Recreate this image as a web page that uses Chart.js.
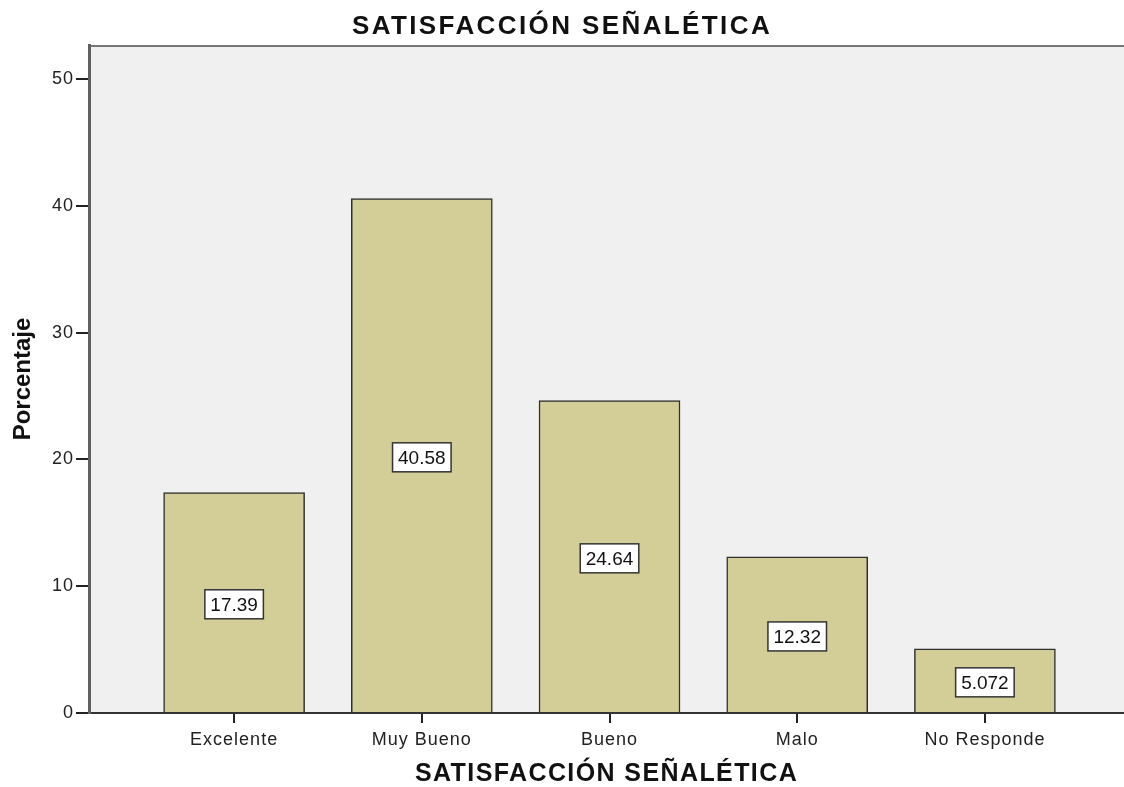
<!DOCTYPE html>
<html>
<head>
<meta charset="utf-8">
<title>SATISFACCIÓN SEÑALÉTICA</title>
<script src="https://cdn.jsdelivr.net/npm/chart.js@4.4.1/dist/chart.umd.min.js"></script>
<style>
  html, body { margin: 0; padding: 0; background: #fff; }
  #wrap { width: 1124px; height: 787px; }
</style>
</head>
<body>
<div id="wrap"><canvas id="satChart"></canvas></div>
<script>
// data
var categories = ['Excelente', 'Muy Bueno', 'Bueno', 'Malo', 'No Responde'];
var porcentaje = [17.39, 40.58, 24.64, 12.32, 5.072];
var yTicks = [0, 10, 20, 30, 40, 50];

var FONT = "'Liberation Sans', Arial, sans-serif";

// the original text is a bit wider than Arial, so spread the letters
function spaced(obj, name, sp) {
  var orig = obj[name];
  if (!orig || orig._spaced) return;
  var f = function () {
    var c = this.ctx;
    c.save();
    c.letterSpacing = sp;
    orig.apply(this, arguments);
    c.restore();
  };
  f._spaced = true;
  obj[name] = f;
}

var letterSpread = {
  id: 'letterSpread',
  afterLayout: function (chart) {
    if (chart.titleBlock) spaced(chart.titleBlock, 'draw', '2.4px');
    spaced(chart.scales.x, 'drawLabels', '1px');
    spaced(chart.scales.x, 'drawTitle', '1.4px');
    spaced(chart.scales.y, 'drawLabels', '1px');
  }
};

// gray plot background + top border
var plotBg = {
  id: 'plotBg',
  beforeDraw: function (chart) {
    var a = chart.chartArea, ctx = chart.ctx;
    ctx.save();
    ctx.fillStyle = '#f0f0f0';
    ctx.fillRect(a.left, a.top, a.right - a.left, a.bottom - a.top);
    ctx.strokeStyle = '#777';
    ctx.lineWidth = 2;
    ctx.beginPath();
    ctx.moveTo(a.left, a.top + 1);
    ctx.lineTo(a.right, a.top + 1);
    ctx.stroke();
    ctx.restore();
  }
};

// boxed value labels in the middle of each bar
var boxLabels = {
  id: 'boxLabels',
  afterDatasetsDraw: function (chart) {
    var ctx = chart.ctx;
    var meta = chart.getDatasetMeta(0);
    ctx.save();
    ctx.font = '19px ' + FONT;
    ctx.textAlign = 'center';
    ctx.textBaseline = 'middle';
    meta.data.forEach(function (bar, i) {
      var txt = String(porcentaje[i]);
      var cx = bar.x;
      var cy = (bar.y + bar.base) / 2 + 2;
      var w = ctx.measureText(txt).width + 11;
      var h = 29;
      ctx.fillStyle = '#fff';
      ctx.fillRect(cx - w / 2, cy - h / 2, w, h);
      ctx.strokeStyle = '#333';
      ctx.lineWidth = 1.5;
      ctx.strokeRect(cx - w / 2, cy - h / 2, w, h);
      ctx.fillStyle = '#111';
      ctx.fillText(txt, cx, cy + 1);
    });
    ctx.restore();
  }
};

var points = [];
for (var i = 0; i < categories.length; i++) {
  points.push({ x: i, y: porcentaje[i] });
}

var ctx = document.getElementById('satChart');
var satChart = new Chart(ctx, {
  type: 'bar',
  data: {
    datasets: [{
      label: 'Porcentaje',
      data: points,
      backgroundColor: '#d3ce97',
      borderColor: '#2e2e2e',
      borderWidth: 1.5,
      barThickness: 141
    }]
  },
  options: {
    responsive: true,
    maintainAspectRatio: false,
    animation: false,
    layout: { padding: 0 },
    plugins: {
      legend: { display: false },
      tooltip: { enabled: false },
      title: {
        display: true,
        text: 'SATISFACCIÓN SEÑALÉTICA',
        color: '#111',
        font: { family: FONT, size: 26, weight: 'bold', lineHeight: 1.2 },
        padding: { top: 11.4, bottom: 2.4 }
      }
    },
    scales: {
      x: {
        type: 'linear',
        min: -0.773,
        max: 4.741,
        offset: false,
        afterBuildTicks: function (scale) {
          scale.ticks = categories.map(function (c, i) { return { value: i }; });
        },
        ticks: {
          autoSkip: false,
          maxRotation: 0,
          padding: 6.2,
          color: '#222',
          font: { family: FONT, size: 18 },
          callback: function (v) { return categories[v]; }
        },
        grid: { offset: false, drawOnChartArea: false, drawTicks: true, tickLength: 10, color: '#222', lineWidth: 2 },
        border: { display: true, color: '#333', width: 2 },
        title: {
          display: true,
          text: 'SATISFACCIÓN SEÑALÉTICA',
          color: '#111',
          font: { family: FONT, size: 25, weight: 'bold', lineHeight: 1 },
          padding: { top: 5, bottom: 0 }
        }
      },
      y: {
        min: 0,
        max: 52.7,
        afterBuildTicks: function (scale) {
          scale.ticks = yTicks.map(function (v) { return { value: v }; });
        },
        ticks: {
          padding: 2,
          color: '#222',
          font: { family: FONT, size: 18 }
        },
        grid: { drawOnChartArea: false, drawTicks: true, tickLength: 13, color: '#222', lineWidth: 2 },
        border: { display: true, color: '#606060', width: 3 },
        title: {
          display: true,
          text: 'Porcentaje',
          color: '#111',
          font: { family: FONT, size: 24, weight: 'bold', lineHeight: 1 },
          padding: { top: 11.7, bottom: 16.3 }
        }
      }
    }
  },
  plugins: [letterSpread, plotBg, boxLabels]
});
</script>
</body>
</html>
